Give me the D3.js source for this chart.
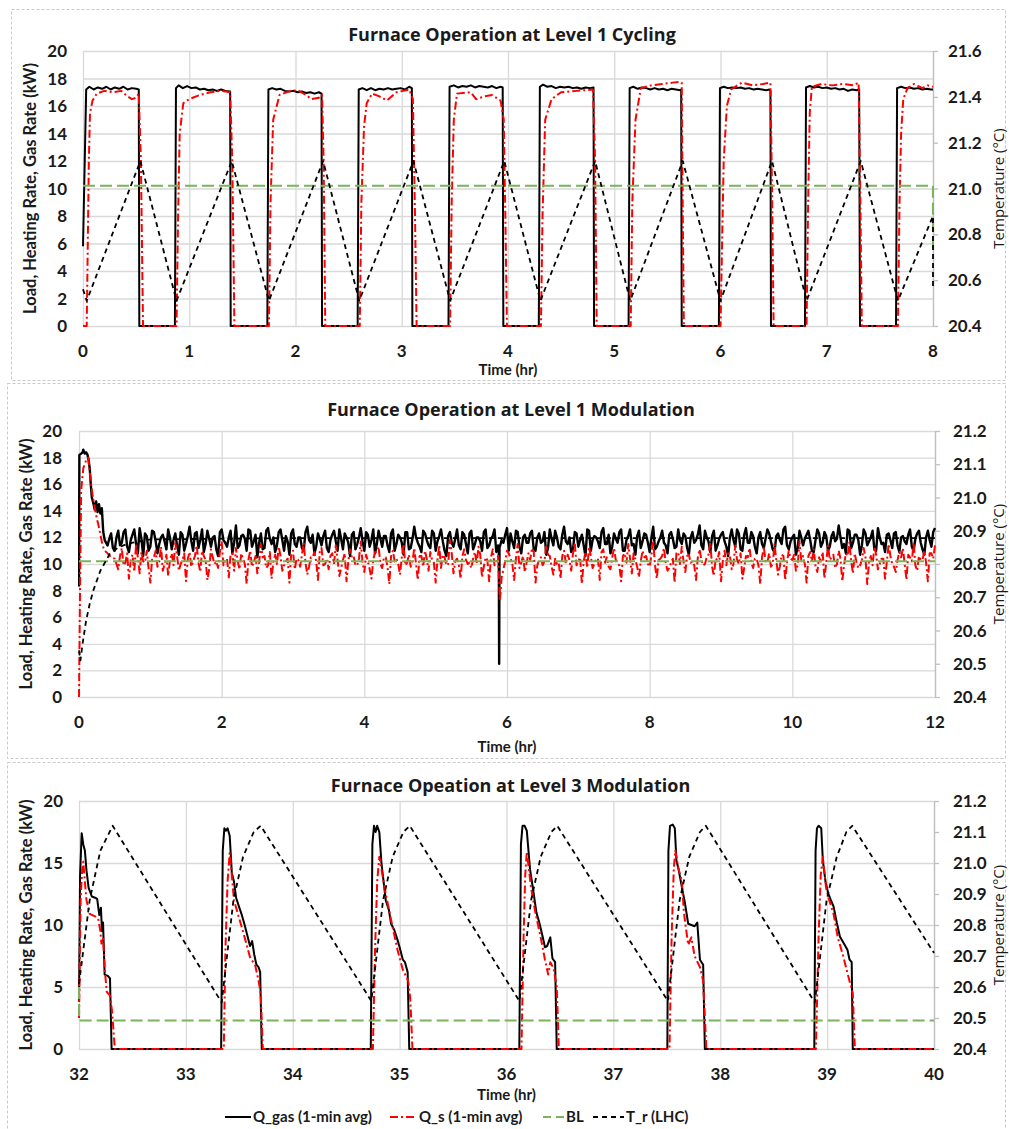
<!DOCTYPE html>
<meta charset="utf-8">
<title>Furnace Operation</title>
<script src="https://d3js.org/d3.v7.min.js"></script>
<style>
  body { margin: 0; background: #fff; }
  text { font-family: Lato, "Open Sans", sans-serif; fill: #1a1a1a; }
</style>
<div id="chart"></div>
<script>

// ---------------- data: Level 1 cycling (0-8 hr) ----------------
var cycGas = [
  [0,5.8],[0.03,17.2],[0.06,17.4],[0.1,17.2],[0.14,17.35],[0.18,17.25],[0.22,17.4],[0.26,17.2],[0.3,17.35],[0.34,17.25],[0.38,17.4],[0.42,17.2],[0.46,17.3],[0.5,17.25],[0.525,17.2],[0.53,0],
  [0.865,0],[0.875,17.3],[0.9,17.5],[0.94,17.3],[0.98,17.45],[1.02,17.3],[1.06,17.35],[1.1,17.2],[1.14,17.25],[1.18,17.15],[1.22,17.2],[1.26,17.1],[1.3,17.2],[1.34,17.1],[1.385,17.05],[1.39,0],
  [1.735,0],[1.745,17.2],[1.78,17.3],[1.82,17.2],[1.86,17.25],[1.9,17.1],[1.94,17.05],[1.98,17.1],[2.02,17.0],[2.06,17.05],[2.1,16.95],[2.14,17.0],[2.18,16.9],[2.22,17.0],[2.245,16.9],[2.25,0],
  [2.585,0],[2.595,17.2],[2.63,17.3],[2.67,17.15],[2.71,17.3],[2.75,17.15],[2.79,17.25],[2.83,17.2],[2.87,17.3],[2.91,17.2],[2.95,17.25],[2.99,17.3],[3.03,17.2],[3.07,17.4],[3.095,17.3],[3.1,0],
  [3.44,0],[3.45,17.4],[3.49,17.5],[3.53,17.35],[3.57,17.45],[3.61,17.4],[3.65,17.5],[3.69,17.35],[3.73,17.45],[3.77,17.4],[3.81,17.35],[3.85,17.45],[3.89,17.3],[3.93,17.4],[3.95,17.35],[3.956,0],
  [4.29,0],[4.3,17.4],[4.33,17.55],[4.37,17.4],[4.41,17.45],[4.45,17.3],[4.49,17.4],[4.53,17.35],[4.57,17.4],[4.61,17.3],[4.65,17.35],[4.69,17.25],[4.73,17.35],[4.77,17.3],[4.805,17.35],[4.81,0],
  [5.135,0],[5.145,17.3],[5.18,17.4],[5.22,17.25],[5.26,17.35],[5.3,17.3],[5.34,17.2],[5.38,17.3],[5.42,17.2],[5.46,17.25],[5.5,17.15],[5.54,17.25],[5.58,17.2],[5.62,17.15],[5.63,17.2],[5.635,0],
  [5.985,0],[5.995,17.3],[6.03,17.4],[6.07,17.3],[6.11,17.35],[6.15,17.3],[6.19,17.35],[6.23,17.25],[6.27,17.3],[6.31,17.2],[6.35,17.25],[6.39,17.2],[6.43,17.15],[6.46,17.2],[6.47,17.1],[6.475,0],
  [6.795,0],[6.805,17.35],[6.84,17.45],[6.88,17.35],[6.92,17.4],[6.96,17.3],[7.0,17.35],[7.04,17.25],[7.08,17.3],[7.12,17.2],[7.16,17.25],[7.2,17.1],[7.24,17.2],[7.28,17.15],[7.305,17.2],[7.313,0],
  [7.652,0],[7.662,17.3],[7.7,17.4],[7.74,17.3],[7.78,17.35],[7.82,17.25],[7.86,17.3],[7.9,17.2],[7.94,17.25],[7.98,17.2],[8.0,17.2]
];
var cycQs = [
  [0,0],[0.035,0],[0.045,6],[0.055,12],[0.066,15.5],[0.09,16.4],[0.13,16.9],[0.2,17.1],[0.28,17.0],[0.36,17.1],[0.42,16.7],[0.46,16.5],[0.5,16.6],[0.525,16.9],[0.545,12],[0.565,0],
  [0.88,0],[0.895,8],[0.91,14],[0.944,16.2],[1.0,16.5],[1.1,16.8],[1.2,17.0],[1.3,17.1],[1.385,17.0],[1.405,12],[1.425,0],
  [1.75,0],[1.765,9],[1.79,15],[1.85,16.8],[1.95,17.1],[2.02,17.15],[2.1,16.8],[2.15,16.5],[2.22,16.6],[2.25,16.8],[2.265,12],[2.28,0],
  [2.605,0],[2.62,9],[2.645,14.5],[2.67,16.2],[2.72,16.9],[2.79,16.7],[2.86,16.4],[2.95,17.0],[3.07,17.2],[3.105,16.5],[3.125,8],[3.14,0],
  [3.455,0],[3.47,9],[3.49,15],[3.52,16.9],[3.65,17.0],[3.7,16.5],[3.78,16.7],[3.85,16.8],[3.93,16.4],[3.96,15],[3.975,8],[3.99,0],
  [4.31,0],[4.325,8],[4.35,15],[4.41,16.5],[4.5,17.0],[4.65,17.1],[4.8,17.2],[4.82,12],[4.835,0],
  [5.155,0],[5.17,9],[5.2,15],[5.25,17.3],[5.35,17.5],[5.45,17.6],[5.55,17.7],[5.62,17.75],[5.635,17.7],[5.645,8],[5.655,0],
  [6.0,0],[6.015,6],[6.03,12],[6.06,16],[6.1,17.2],[6.2,17.7],[6.3,17.5],[6.4,17.6],[6.47,17.7],[6.485,10],[6.5,0],
  [6.81,0],[6.825,9],[6.84,15.5],[6.86,17.4],[6.95,17.6],[7.05,17.5],[7.15,17.6],[7.25,17.5],[7.3,17.7],[7.315,10],[7.33,0],
  [7.67,0],[7.685,9],[7.7,14],[7.72,16.5],[7.76,17.3],[7.82,17.6],[7.9,17.3],[7.95,17.5],[8.0,17.4]
];
var cycBL = [[0,10.2],[7.999,10.2],[8,5.5]];
var cycTr = [
  [0,20.56],[0.035,20.51],[0.54,21.12],[0.88,20.51],[1.40,21.12],[1.75,20.51],[2.26,21.12],[2.60,20.51],
  [3.11,21.12],[3.455,20.51],[3.965,21.12],[4.305,20.51],[4.82,21.12],[5.15,20.51],[5.645,21.12],[6.0,20.51],
  [6.485,21.12],[6.81,20.51],[7.32,21.12],[7.67,20.51],[8.0,20.88],[8.0,20.56]
];
var cycXTicks = [0, 1, 2, 3, 4, 5, 6, 7, 8];
var cycYTicks = [0, 2, 4, 6, 8, 10, 12, 14, 16, 18, 20];
var cycTTicks = [20.4, 20.6, 20.8, 21.0, 21.2, 21.4, 21.6];

// ---------------- data: Level 1 modulation (0-12 hr) ----------------
var mod1GasHead = [
  [0,8.3],[0.005,18.2],[0.03,18.3],[0.05,18.4],[0.06,18.6],[0.08,18.3],[0.1,18.4],[0.12,18.2],[0.135,17.8],[0.15,17.2],[0.165,16.0],[0.18,15.0],[0.2,14.6],
  [0.22,14.1],[0.24,14.7],[0.26,13.9],[0.28,14.5],[0.3,13.8],[0.32,14.2],[0.34,12.4],[0.36,11.8]
];
// samples every 0.05 hr, plus a second set offset by 0.025 hr
var mod1Step = 0.05;
var mod1GasT0 = 0.4, mod1GasMidT0 = 0.425;
var mod1GasNoise = [
  11.4, 12.3, 11.0, 12.5, 11.6, 12.6, 10.9, 12.2, 11.5, 12.7, 10.6, 12.1, 11.3, 12.4, 10.8, 12.0, 11.7, 12.6, 11.1, 12.3,
  10.7, 12.2, 11.5, 12.8, 11.0, 12.4, 11.8, 10.9, 12.5, 11.3, 12.1, 10.6, 12.6, 11.6, 12.0, 10.8, 12.9, 11.4, 12.2, 11.0,
  12.5, 11.7, 10.5, 12.3, 11.2, 12.7, 11.5, 10.9, 12.4, 11.8, 12.1, 10.7, 12.6, 11.3, 12.0, 11.0, 12.8, 11.6, 10.8, 12.3,
  11.4, 12.5, 10.9, 12.2, 11.7, 12.6, 11.1, 12.0, 10.6, 12.4, 11.5, 12.7, 11.0, 12.2, 11.8, 10.8, 12.5, 11.3, 12.1, 10.9,
  12.6, 11.5, 12.0, 10.7, 12.4, 11.2, 12.8, 11.6, 10.9, 12.3, 11.4, 12.5, 11.0, 12.1, 11.7, 10.6, 12.4, 11.3, 12.6, 11.1,
  12.2, 10.8, 12.5, 11.5, 12.0, 11.0, 12.6, 11.4, 12.1, 10.9, 11.3, 11.6, 12.7, 12.3, 11.2, 12.4, 10.8, 12.2, 11.6, 12.5,
  11.0, 12.3, 11.7, 10.7, 12.6, 11.4, 12.0, 11.1, 12.8, 11.5, 10.9, 12.4, 11.3, 12.2, 10.6, 12.5, 11.8, 12.0, 11.2, 12.7,
  11.5, 10.8, 12.3, 11.6, 12.6, 11.0, 12.1, 11.4, 10.7, 12.5, 11.7, 12.2, 10.9, 12.8, 11.3, 12.0, 11.6, 10.8, 12.4, 11.2,
  12.6, 11.5, 12.1, 10.7, 12.4, 11.8, 12.9, 11.1, 12.0, 10.9, 12.5, 11.4, 12.2, 11.7, 10.6, 12.6, 11.3, 12.3, 11.0, 12.7,
  11.6, 12.1, 10.8, 12.4, 11.2, 12.6, 11.7, 10.9, 12.3, 11.5, 12.8, 11.1, 12.0, 10.7, 12.5, 11.4, 12.2, 11.8, 10.9, 12.6,
  11.3, 12.4, 11.0, 12.1, 11.7, 12.9, 11.2, 10.8, 12.5, 11.6, 12.2, 10.7, 12.6, 11.4, 12.0, 11.1, 12.7, 11.5, 10.9, 12.3,
  11.2, 12.4, 10.9, 12.1, 11.5, 12.6, 11.0, 12.3, 11.6, 10.7, 12.5, 11.3, 12.7
];
var mod1GasNoiseMid = [
  11.9, 11.2, 12.0, 11.4, 12.4, 11.3, 11.8, 12.6, 10.8, 11.9, 12.3, 11.0, 12.5, 11.7, 11.5, 12.2, 11.1, 12.0, 11.8, 11.4,
  12.4, 11.0, 12.1, 11.7, 12.3, 11.2, 12.6, 11.5, 11.9, 12.0, 11.1, 12.4, 11.8, 11.3, 12.5, 11.6, 11.2, 12.1, 11.9, 12.6,
  11.3, 12.2, 11.6, 11.1, 12.5, 11.9, 12.0, 11.4, 12.6, 11.0, 11.7, 12.3, 11.5, 12.0, 11.2, 12.4, 11.8, 12.2, 11.3, 11.9,
  12.1, 11.2, 11.8, 12.5, 11.0, 11.9, 12.3, 11.6, 12.2, 11.1, 12.0, 11.7, 12.4, 11.3, 12.6, 11.5, 11.9, 12.1, 11.4, 12.3,
  11.0, 12.2, 11.6, 12.4, 11.1, 11.9, 12.0, 11.3, 12.5, 11.8, 11.2, 12.3, 11.7, 12.6, 11.0, 12.1, 11.6, 11.9, 11.4, 12.4,
  11.5, 12.3, 11.1, 12.0, 11.7, 12.4, 11.2, 11.9, 12.6, 11.4, 11.8, 12.2, 11.0, 11.7, 12.5, 11.3, 12.0, 11.6, 12.3, 11.1,
  12.0, 11.6, 12.4, 11.2, 11.9, 12.5, 11.3, 12.2, 11.7, 12.0, 11.1, 12.3, 11.8, 11.4, 12.6, 11.0, 12.1, 11.7, 12.4, 11.5,
  12.2, 11.3, 11.9, 12.4, 11.0, 11.8, 12.6, 11.5, 12.1, 11.2, 12.3, 11.6, 12.0, 11.1, 11.7, 12.5, 11.4, 12.2, 11.9, 11.3,
  11.8, 12.3, 11.2, 12.0, 11.6, 12.2, 11.4, 12.5, 11.7, 12.1, 11.0, 11.9, 12.4, 11.3, 12.0, 11.8, 12.6, 11.1, 12.2, 11.6,
  12.4, 11.3, 12.0, 11.5, 11.9, 12.3, 11.1, 12.1, 11.8, 12.6, 11.4, 11.7, 12.2, 11.2, 12.0, 11.9, 12.5, 11.0, 11.8, 12.3,
  11.6, 12.1, 11.3, 12.4, 11.9, 12.0, 11.5, 12.6, 11.2, 12.2, 11.8, 11.4, 12.3, 11.7, 12.5, 11.0, 12.0, 11.6, 12.2, 11.8,
  12.3, 11.4, 12.0, 11.7, 12.2, 11.3, 11.9, 12.5, 11.1, 12.0, 11.8, 12.4
];
var mod1GasDip = [[5.885,11.0],[5.89,2.5],[5.895,11.3]];
var mod1QsHead = [
  [0,0],[0.015,8.3],[0.03,15.5],[0.06,17.2],[0.1,17.8],[0.13,18.0],[0.15,17.0],[0.17,16.0],[0.19,15.2],[0.21,14.6],
  [0.23,14.0],[0.25,13.4],[0.27,13.0],[0.3,12.2],[0.33,11.4],[0.36,11.0],[0.4,10.8],[0.45,10.5]
];
var mod1QsT0 = 0.5, mod1QsMidT0 = 0.525;
var mod1QsNoise = [
  10.4, 9.6, 11.2, 10.1, 8.9, 10.7, 11.5, 9.3, 10.2, 11.0, 8.6, 10.5, 9.8, 11.3, 10.0, 9.1, 10.8, 11.6, 9.5, 10.3,
  8.7, 10.9, 10.2, 11.4, 9.4, 10.6, 8.8, 11.1, 10.0, 9.7, 11.7, 10.3, 9.0, 10.8, 11.2, 9.6, 10.4, 8.5, 11.0, 10.1,
  9.3, 11.5, 10.6, 9.9, 8.9, 10.7, 11.3, 9.5, 10.2, 8.6, 11.0, 10.4, 9.8, 11.6, 9.2, 10.5, 10.9, 8.8, 11.2, 10.0,
  9.6, 10.8, 11.4, 9.1, 10.3, 8.7, 11.1, 10.6, 9.9, 11.7, 9.4, 10.2, 8.9, 10.9, 11.3, 9.7, 10.5, 8.5, 11.0, 10.4,
  9.2, 11.5, 10.1, 9.8, 11.2, 8.8, 10.6, 11.0, 9.5, 10.3, 8.6, 11.4, 10.7, 9.9, 11.8, 9.3, 10.4, 8.9, 11.1, 10.0,
  9.7, 10.9, 11.3, 9.0, 10.5, 8.7, 11.1, 10.2, 7.2, 9.6, 11.0, 10.4, 8.8, 11.5, 10.1, 9.4, 10.8, 11.2, 8.6, 10.3,
  9.9, 11.4, 10.6, 9.2, 10.0, 8.9, 11.0, 10.7, 9.5, 11.6, 10.2, 8.5, 10.9, 11.3, 9.7, 10.4, 8.8, 11.1, 10.5, 9.6,
  11.2, 10.0, 8.7, 10.8, 11.5, 9.3, 10.3, 9.0, 11.0, 10.6, 9.8, 11.7, 8.9, 10.4, 11.2, 9.5, 10.1, 8.6, 10.9, 11.3,
  9.4, 10.7, 10.2, 8.8, 11.1, 9.9, 10.5, 11.6, 9.1, 10.3, 8.7, 11.0, 10.8, 9.6, 11.4, 10.0, 8.9, 10.6, 11.2, 9.7,
  10.4, 8.5, 11.3, 10.1, 9.8, 11.5, 9.2, 10.7, 8.8, 11.0, 10.3, 9.5, 11.7, 10.6, 8.6, 10.9, 11.1, 9.4, 10.2, 8.9,
  11.4, 10.5, 9.7, 11.0, 8.7, 10.8, 11.6, 9.3, 10.1, 9.9, 11.2, 8.5, 10.6, 11.3, 9.6, 10.4, 8.9, 11.5, 10.0, 9.4,
  10.9, 11.2, 8.8, 10.5, 11.6, 9.5, 10.3, 11.0, 8.7, 10.8, 11.4
];
var mod1QsNoiseMid = [
  10.0, 10.6, 9.9, 10.8, 10.3, 9.4, 10.5, 10.9, 10.1, 9.7, 10.4, 11.0, 10.2, 9.5, 10.7, 10.3, 9.9, 10.6, 10.0, 10.8,
  10.4, 9.8, 10.6, 10.1, 11.0, 10.3, 9.6, 10.5, 10.2, 10.9, 9.9, 10.4, 10.7, 9.5, 10.2, 10.8, 10.0, 10.3, 9.8, 10.6,
  10.1, 10.5, 9.7, 10.9, 10.2, 10.0, 10.6, 9.9, 10.4, 10.8, 9.6, 10.3, 10.7, 10.1, 9.8, 10.5, 10.2, 10.9, 9.9, 10.4,
  10.6, 10.0, 10.3, 9.7, 10.8, 10.2, 10.5, 9.9, 10.4, 10.1, 10.7, 9.6, 10.3, 10.9, 10.0, 10.5, 9.8, 10.6, 10.2, 10.0,
  10.5, 9.9, 10.7, 10.2, 10.0, 10.6, 9.8, 10.4, 10.9, 10.1, 10.3, 9.7, 10.5, 10.0, 10.8, 10.2, 9.9, 10.6, 10.3, 10.1,
  10.4, 10.0, 10.7, 9.8, 10.3, 10.5, 9.9, 10.6, 9.0, 10.2, 10.8, 10.0, 10.4, 9.7, 10.6, 10.1, 10.3, 10.9, 9.9, 10.5,
  10.2, 10.7, 9.8, 10.4, 10.1, 10.6, 10.0, 10.3, 10.8, 9.9, 10.5, 10.2, 9.7, 10.6, 10.0, 10.4, 10.9, 10.1, 9.8, 10.5,
  10.3, 9.9, 10.6, 10.1, 10.4, 10.8, 9.8, 10.2, 10.5, 10.0, 10.7, 9.9, 10.3, 10.6, 10.1, 9.7, 10.4, 10.8, 10.0, 10.2,
  10.6, 10.1, 9.9, 10.5, 10.3, 10.0, 10.7, 9.8, 10.4, 10.9, 10.2, 9.9, 10.6, 10.0, 10.3, 10.8, 9.7, 10.5, 10.1, 10.4,
  9.9, 10.5, 10.2, 10.8, 10.0, 10.3, 9.8, 10.6, 10.1, 10.4, 10.7, 9.9, 10.3, 10.0, 10.6, 10.2, 9.8, 10.5, 10.9, 10.1,
  10.3, 10.7, 10.0, 10.4, 9.9, 10.6, 10.2, 10.8, 9.7, 10.3, 10.5, 10.1, 9.9, 10.7, 10.0, 10.4, 10.2, 10.6, 9.8, 10.3,
  10.5, 10.0, 10.7, 10.2, 9.9, 10.6, 10.3, 10.1, 10.8, 10.4
];
var mod1BL = [[0,10.2],[12,10.2]];
var mod1Tr = [
  [0,20.54],[0.02,20.51],[0.05,20.56],[0.1,20.63],[0.15,20.68],[0.2,20.72],[0.3,20.78],[0.43,20.83],
  [0.55,20.85],[0.7,20.862],[1.0,20.874],[3,20.878],[6,20.878],[9,20.878],[12,20.878]
];
var mod1XTicks = [0, 2, 4, 6, 8, 10, 12];
var mod1YTicks = [0, 2, 4, 6, 8, 10, 12, 14, 16, 18, 20];
var mod1TTicks = [20.4, 20.5, 20.6, 20.7, 20.8, 20.9, 21.0, 21.1, 21.2];

// ---------------- data: Level 3 modulation (32-40 hr) ----------------
var mod3Gas = [
  [32.0,3.8],[32.01,14],[32.025,17.4],[32.04,16.5],[32.055,16.0],[32.07,14.4],[32.09,13.0],[32.12,12.3],[32.15,12.2],[32.17,12.1],[32.19,10.8],[32.205,11.4],[32.215,9.5],[32.225,10.2],[32.24,6.0],[32.27,5.9],[32.29,5.7],[32.305,0],
  [33.33,0],[33.345,16],[33.36,17.8],[33.375,17.6],[33.39,17.8],[33.41,17.2],[33.43,14.2],[33.45,13.5],[33.47,12.2],[33.5,11.4],[33.52,10.9],[33.55,10.0],[33.58,9.0],[33.6,8.3],[33.62,8.7],[33.64,7.6],[33.66,6.8],[33.68,6.6],[33.695,6.2],[33.71,0],
  [34.73,0],[34.745,16.5],[34.76,18.0],[34.775,17.5],[34.79,18.0],[34.81,17.5],[34.83,15.0],[34.85,13.5],[34.87,12.0],[34.9,11.2],[34.92,10.1],[34.95,9.6],[34.98,8.8],[35.0,8.2],[35.03,7.2],[35.05,7.0],[35.075,6.2],[35.09,0],
  [36.12,0],[36.135,16.5],[36.15,18.0],[36.17,18.0],[36.19,17.6],[36.22,14.5],[36.25,12.8],[36.28,11.0],[36.31,10.1],[36.34,9.0],[36.36,8.2],[36.38,8.3],[36.41,9.0],[36.43,7.3],[36.455,7.0],[36.47,0],
  [37.505,0],[37.515,16],[37.53,18.0],[37.555,18.1],[37.575,17.8],[37.59,15.2],[37.61,14.5],[37.64,13.1],[37.67,11.75],[37.70,10.1],[37.73,10.0],[37.76,9.9],[37.785,10.2],[37.81,7.2],[37.84,6.8],[37.856,0],
  [38.88,0],[38.892,16],[38.905,17.8],[38.92,18.0],[38.945,17.8],[38.96,15.2],[38.985,13.5],[39.01,12.55],[39.035,12.0],[39.06,11.5],[39.09,10.2],[39.12,9.06],[39.15,8.6],[39.17,8.3],[39.19,8.0],[39.21,7.2],[39.23,7.0],[39.24,0],[40,0]
];
var mod3Qs = [
  [32.0,2.5],[32.015,12],[32.03,14.5],[32.04,15.1],[32.055,13.5],[32.07,12.0],[32.1,10.9],[32.15,10.7],[32.18,10.5],[32.2,9.5],[32.21,8.5],[32.225,9.0],[32.24,6.5],[32.26,4.6],[32.29,4.3],[32.31,3.0],[32.335,0],
  [33.355,0],[33.37,8],[33.39,13.5],[33.41,15.8],[33.43,14.0],[33.45,12.0],[33.5,10.5],[33.55,9.0],[33.6,7.4],[33.63,7.0],[33.65,6.7],[33.68,5.5],[33.7,4.5],[33.72,0],
  [34.75,0],[34.77,8],[34.79,13.5],[34.81,15.5],[34.84,14.0],[34.87,12.5],[34.93,10.0],[34.98,8.0],[35.03,6.4],[35.08,5.5],[35.1,4.0],[35.12,0],
  [36.14,0],[36.16,9],[36.175,14],[36.19,15.9],[36.23,13.0],[36.27,11.0],[36.32,9.0],[36.36,7.2],[36.39,6.0],[36.41,7.0],[36.44,6.5],[36.47,5.0],[36.49,0],
  [37.525,0],[37.545,9],[37.565,14.5],[37.58,16.0],[37.61,14.5],[37.64,13.6],[37.66,11.0],[37.70,8.4],[37.73,9.0],[37.76,7.5],[37.81,6.6],[37.84,5.5],[37.87,0],
  [38.895,0],[38.92,9],[38.94,14],[38.96,15.5],[38.99,13.0],[39.02,12.0],[39.06,10.9],[39.1,9.0],[39.15,7.5],[39.2,5.8],[39.24,4.5],[39.26,0],[40,0]
];
var mod3BL = [[32,5.0],[32.001,2.3],[40,2.3]];
var mod3Tr = [
  [32.0,20.61],[32.1,20.88],[32.2,21.04],[32.315,21.12],[33.335,20.55],[33.445,20.88],[33.535,21.02],[33.635,21.10],[33.70,21.12],
  [34.735,20.555],[34.845,20.88],[34.935,21.02],[35.035,21.10],[35.095,21.12],[36.12,20.555],[36.23,20.88],[36.32,21.02],[36.42,21.10],[36.475,21.12],
  [37.51,20.555],[37.62,20.88],[37.71,21.02],[37.81,21.10],[37.865,21.12],[38.885,20.55],[38.995,20.88],[39.09,21.02],[39.18,21.10],[39.235,21.12],[40,20.71]
];
var mod3XTicks = [32, 33, 34, 35, 36, 37, 38, 39, 40];
var mod3YTicks = [0, 5, 10, 15, 20];
var mod3TTicks = [20.4, 20.5, 20.6, 20.7, 20.8, 20.9, 21.0, 21.1, 21.2];

var seriesNames = ["Q_gas (1-min avg)", "Q_s (1-min avg)", "BL", "T_r (LHC)"];

// put the sampled noise on the time axis and merge with the start-up part
function sampled(vals, t0) {
  return vals.map(function(v, i) { return [t0 + i * mod1Step, v]; });
}
function byTime(a, b) { return a[0] - b[0]; }
var mod1Gas = mod1GasHead
  .concat(sampled(mod1GasNoise, mod1GasT0), sampled(mod1GasNoiseMid, mod1GasMidT0), mod1GasDip)
  .filter(function(d) { return d[0] <= 12.0001; })
  .sort(byTime);
var mod1Qs = mod1QsHead
  .concat(sampled(mod1QsNoise, mod1QsT0), sampled(mod1QsNoiseMid, mod1QsMidT0))
  .filter(function(d) { return d[0] <= 12.0001; })
  .sort(byTime);

// ---------------- drawing ----------------
var W = 1009, H = 1129;
var svg = d3.select("#chart").append("svg").attr("width", W).attr("height", H);

var styles = {
  gas: { stroke: "#000", width: 2, dash: null },
  qs:  { stroke: "#ff0000", width: 2, dash: "8,3,2,3" },
  bl:  { stroke: "#79b35a", width: 2, dash: "12,5" },
  tr:  { stroke: "#000", width: 1.8, dash: "5,4" }
};

var panels = [
  { box: [11, 9, 994, 371], l: 83, r: 933, t: 51, b: 326, xd: [0, 8], td: [20.4, 21.6],
    xt: cycXTicks, yt: cycYTicks, tt: cycTTicks, title: "Furnace Operation at Level 1 Cycling",
    titleY: 41, xlabY: 357, xtitY: 375, ylabX: 67, tlabX: 948, ytitX: 36, gasW: 2,
    gas: cycGas, qs: cycQs, bl: cycBL, tr: cycTr },
  { box: [7, 383, 998, 375], l: 79, r: 935, t: 431, b: 697, xd: [0, 12], td: [20.4, 21.2],
    xt: mod1XTicks, yt: mod1YTicks, tt: mod1TTicks, title: "Furnace Operation at Level 1 Modulation",
    titleY: 416, xlabY: 728, xtitY: 752, ylabX: 62, tlabX: 953, ytitX: 32, gasW: 2.4,
    gas: mod1Gas, qs: mod1Qs, bl: mod1BL, tr: mod1Tr },
  { box: [7, 762, 998, 380], l: 79, r: 934, t: 801, b: 1049, xd: [32, 40], td: [20.4, 21.2],
    xt: mod3XTicks, yt: mod3YTicks, tt: mod3TTicks, title: "Furnace Opeation at Level 3 Modulation",
    titleY: 792, xlabY: 1080, xtitY: 1100, ylabX: 63, tlabX: 953, ytitX: 32, gasW: 2,
    gas: mod3Gas, qs: mod3Qs, bl: mod3BL, tr: mod3Tr }
];

panels.forEach(function(p, pi) {
  var g = svg.append("g");

  // dashed outer frame
  g.append("rect")
    .attr("x", p.box[0] + 0.5).attr("y", p.box[1] + 0.5)
    .attr("width", p.box[2]).attr("height", p.box[3])
    .attr("fill", "none").attr("stroke", "#c9c9c9")
    .attr("stroke-dasharray", "3,2");

  var x = d3.scaleLinear().domain(p.xd).range([p.l, p.r]);
  var y = d3.scaleLinear().domain([0, 20]).range([p.b, p.t]);
  var yT = d3.scaleLinear().domain(p.td).range([p.b, p.t]);

  // gridlines
  g.append("g")
    .attr("transform", "translate(" + p.l + ",0)")
    .call(d3.axisLeft(y).tickValues(p.yt).tickSize(-(p.r - p.l)).tickFormat(""))
    .call(function(s) {
      s.select(".domain").remove();
      s.selectAll("line").attr("stroke", "#d9d9d9").attr("stroke-width", 1.3);
    });
  g.append("g")
    .attr("transform", "translate(0," + p.b + ")")
    .call(d3.axisBottom(x).tickValues(p.xt).tickSize(-(p.b - p.t)).tickFormat(""))
    .call(function(s) {
      s.select(".domain").remove();
      s.selectAll("line").attr("stroke", "#d9d9d9").attr("stroke-width", 1.3);
    });

  // right temperature axis (line + outward ticks)
  g.append("g")
    .attr("transform", "translate(" + p.r + ",0)")
    .call(d3.axisRight(yT).tickValues(p.tt).tickSize(5).tickSizeOuter(0).tickFormat(""))
    .call(function(s) {
      s.select(".domain").attr("stroke", "#bfbfbf").attr("stroke-width", 1.3);
      s.selectAll("line").attr("stroke", "#bfbfbf").attr("stroke-width", 1.3);
    });

  var cid = "clip" + pi;
  svg.append("clipPath").attr("id", cid).append("rect")
    .attr("x", p.l - 1).attr("y", p.t - 4).attr("width", p.r - p.l + 2).attr("height", p.b - p.t + 6);

  var lineL = d3.line().x(function(d) { return x(d[0]); }).y(function(d) { return y(d[1]); });
  var lineT = d3.line().x(function(d) { return x(d[0]); }).y(function(d) { return yT(d[1]); });

  var plot = g.append("g").attr("clip-path", "url(#" + cid + ")");
  function draw(data, gen, st, w) {
    plot.append("path").datum(data)
      .attr("d", gen)
      .attr("fill", "none")
      .attr("stroke", st.stroke)
      .attr("stroke-width", w || st.width)
      .attr("stroke-linejoin", "round")
      .attr("stroke-dasharray", st.dash);
  }
  draw(p.gas, lineL, styles.gas, p.gasW);
  draw(p.qs, lineL, styles.qs);
  draw(p.bl, lineL, styles.bl);
  draw(p.tr, lineT, styles.tr);

  // tick labels
  g.selectAll(".ylab").data(p.yt).join("text")
    .attr("x", p.ylabX).attr("y", function(d) { return y(d) + 6; })
    .attr("text-anchor", "end").attr("font-size", 17).attr("font-weight", "bold")
    .text(function(d) { return d; });
  g.selectAll(".tlab").data(p.tt).join("text")
    .attr("x", p.tlabX).attr("y", function(d) { return yT(d) + 6; })
    .attr("font-size", 17).attr("font-weight", "bold")
    .text(function(d) { return d.toFixed(1); });
  g.selectAll(".xlab").data(p.xt).join("text")
    .attr("x", function(d) { return x(d); }).attr("y", p.xlabY)
    .attr("text-anchor", "middle").attr("font-size", 17).attr("font-weight", "bold")
    .text(function(d) { return d; });

  // titles
  g.append("text").attr("x", (p.l + p.r) / 2 + 4).attr("y", p.titleY)
    .attr("text-anchor", "middle").attr("font-size", 18).attr("font-weight", "bold")
    .style("font-family", "'Open Sans', sans-serif")
    .text(p.title);
  g.append("text").attr("x", (p.l + p.r) / 2).attr("y", p.xtitY)
    .attr("text-anchor", "middle").attr("font-size", 15).attr("font-weight", "bold")
    .text("Time (hr)");
  g.append("text")
    .attr("transform", "translate(" + p.ytitX + "," + ((p.t + p.b) / 2) + ") rotate(-90)")
    .attr("text-anchor", "middle").attr("font-size", 16.5).attr("font-weight", "bold")
    .text("Load, Heating Rate, Gas Rate (kW)");
  g.append("text")
    .attr("transform", "translate(1004," + ((p.t + p.b) / 2) + ") rotate(-90)")
    .attr("text-anchor", "middle").attr("font-size", 15)
    .style("font-family", "'Open Sans', sans-serif")
    .text("Temperature (°C)");
});

// legend
var legY = 1117;
var leg = [
  { x0: 225, x1: 251, tx: 253, st: styles.gas },
  { x0: 390, x1: 417, tx: 419, st: styles.qs },
  { x0: 543, x1: 564, tx: 566, st: { stroke: styles.bl.stroke, width: 2, dash: "8,5" } },
  { x0: 593, x1: 624, tx: 626, st: styles.tr }
];
leg.forEach(function(d, i) {
  svg.append("line").attr("x1", d.x0).attr("x2", d.x1).attr("y1", legY).attr("y2", legY)
    .attr("stroke", d.st.stroke).attr("stroke-width", 2).attr("stroke-dasharray", d.st.dash);
  svg.append("text").attr("x", d.tx).attr("y", legY + 5)
    .attr("font-size", 15).attr("font-weight", "bold").text(seriesNames[i]);
});
</script>
